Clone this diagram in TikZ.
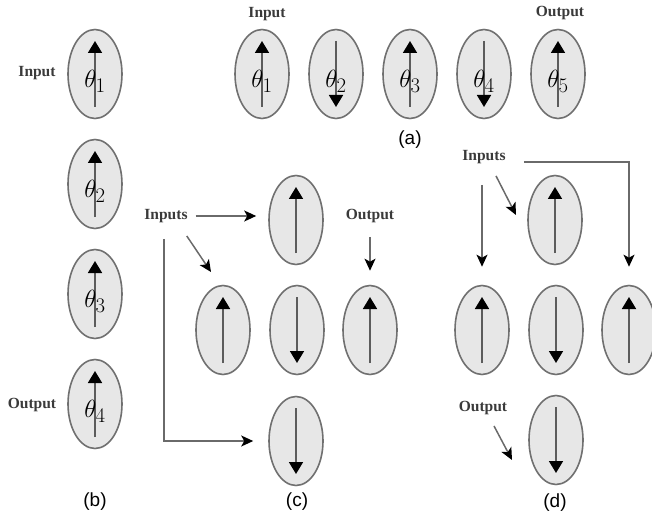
\documentclass[tikz,border=0pt]{standalone}
\usepackage{fontspec}
\newfontfamily\capfont{Liberation Sans}
\newfontfamily\labfont{Liberation Serif}
\usetikzlibrary{shapes.geometric,arrows.meta}
\definecolor{cellfill}{HTML}{E7E7E7}
\definecolor{cellline}{HTML}{707070}
\definecolor{spinline}{HTML}{5C5C5C}
\definecolor{connline}{HTML}{6A6A6A}
\definecolor{labtext}{HTML}{3A3A3A}
\begin{document}
\begin{tikzpicture}[x=1pt,y=-1pt,
  cell/.style={ellipse,draw=cellline,fill=cellfill,line width=1.6pt,minimum width=54pt,minimum height=89pt,inner sep=0pt},
  spin/.style={draw=spinline,line width=1.8pt,-{Triangle[length=12pt,width=14pt,black]}},
  conn/.style={draw=connline,line width=1.5pt,-{Stealth[length=12pt,width=11pt,inset=3pt,black]}},
  lbl/.style={text=labtext,font=\labfont\bfseries\fontsize{15.5}{18}\selectfont,inner sep=0pt},
  theta/.style={font=\fontsize{24.88}{28}\selectfont,inner sep=0pt},
  sublab/.style={font=\capfont\fontsize{19}{22}\selectfont,inner sep=0pt}]
\useasboundingbox (0,0) rectangle (652,521);

% ---------- (a) ----------
\foreach \n/\x in {1/262,2/336,3/410,4/484,5/558}{
  \node[cell] (a\n) at (\x,74) {};
}
\foreach \n in {1,3,5}{\draw[spin] ([yshift=-33pt]a\n.center) -- ([yshift=33pt]a\n.center);}
\foreach \n in {2,4}{\draw[spin] ([yshift=33pt]a\n.center) -- ([yshift=-33pt]a\n.center);}
\foreach \n in {1,...,5}{\node[theta] (at\n) at ([shift={(0,7)}]a\n.center) {$\theta_{\n}$};}
\node[lbl] (ain) at (267,14) {Input};
\node[lbl] (aout) at (560,13) {Output};
\node[sublab] (alab) at (410,140) {(a)};

% ---------- (b) ----------
\foreach \n/\y in {1/74,2/184,3/294,4/404}{
  \node[cell] (b\n) at (95,\y) {};
  \draw[spin] ([yshift=-33pt]b\n.center) -- ([yshift=33pt]b\n.center);
  \node[theta] (bt\n) at ([shift={(0,7)}]b\n.center) {$\theta_{\n}$};
}
\node[lbl] (bin) at (37,73) {Input};
\node[lbl] (bout) at (32,405) {Output};
\node[sublab] (blab) at (95,502) {(b)};

% ---------- (c) ----------
\node[cell] (ctop) at (296,220) {};
\node[cell] (cl) at (223,330) {};
\node[cell] (cm) at (297,330) {};
\node[cell] (cr) at (370,330) {};
\node[cell] (cbot) at (296,441) {};
\draw[spin] ([yshift=-33pt]ctop.center) -- ([yshift=33pt]ctop.center);
\draw[spin] ([yshift=-33pt]cl.center) -- ([yshift=33pt]cl.center);
\draw[spin] ([yshift=33pt]cm.center) -- ([yshift=-33pt]cm.center);
\draw[spin] ([yshift=-33pt]cr.center) -- ([yshift=33pt]cr.center);
\draw[spin] ([yshift=33pt]cbot.center) -- ([yshift=-33pt]cbot.center);
\node[lbl] (cin) at (166,216) {Inputs};
\node[lbl] (cout) at (370,216) {Output};
\coordinate (cdiag) at (211,272);
\draw[conn,shorten <=8pt,shorten >=12pt] (cin.east) -- (cin.east -| ctop.west);
\draw[conn] ([shift={(-1,13)}]cin.south east) -- (cdiag);
\draw[conn,shorten >=15pt] ([shift={(-2,16)}]cin.south) |- (cbot.west);
\draw[conn,shorten <=14pt,shorten >=14pt] (cout.south) -- (cr.north);
\node[sublab] (clab) at (297,502) {(c)};

% ---------- (d) ----------
\node[cell] (dtop) at (555,220) {};
\node[cell] (dl) at (482,330) {};
\node[cell] (dm) at (556,330) {};
\node[cell] (dr) at (629,330) {};
\node[cell] (dbot) at (556,440) {};
\draw[spin] ([yshift=-33pt]dtop.center) -- ([yshift=33pt]dtop.center);
\draw[spin] ([yshift=-33pt]dl.center) -- ([yshift=33pt]dl.center);
\draw[spin] ([yshift=33pt]dm.center) -- ([yshift=-33pt]dm.center);
\draw[spin] ([yshift=-33pt]dr.center) -- ([yshift=33pt]dr.center);
\draw[spin] ([yshift=33pt]dbot.center) -- ([yshift=-33pt]dbot.center);
\node[lbl] (din) at (484,157) {Inputs};
\node[lbl] (dout) at (483,408) {Output};
\coordinate (ddiag) at (516,215);
\coordinate (dodiag) at (512,460);
\draw[conn,shorten >=18pt] ([shift={(18,5)}]din.east) -| (dr.north);
\draw[conn,shorten <=21pt,shorten >=18pt] (din.south -| dl.north) -- (dl.north);
\draw[conn] ([shift={(12,12)}]din.south) -- (ddiag);
\draw[conn] ([shift={(11,11)}]dout.south) -- (dodiag);
\node[sublab] (dlab) at (555,503) {(d)};
\end{tikzpicture}
\end{document}
